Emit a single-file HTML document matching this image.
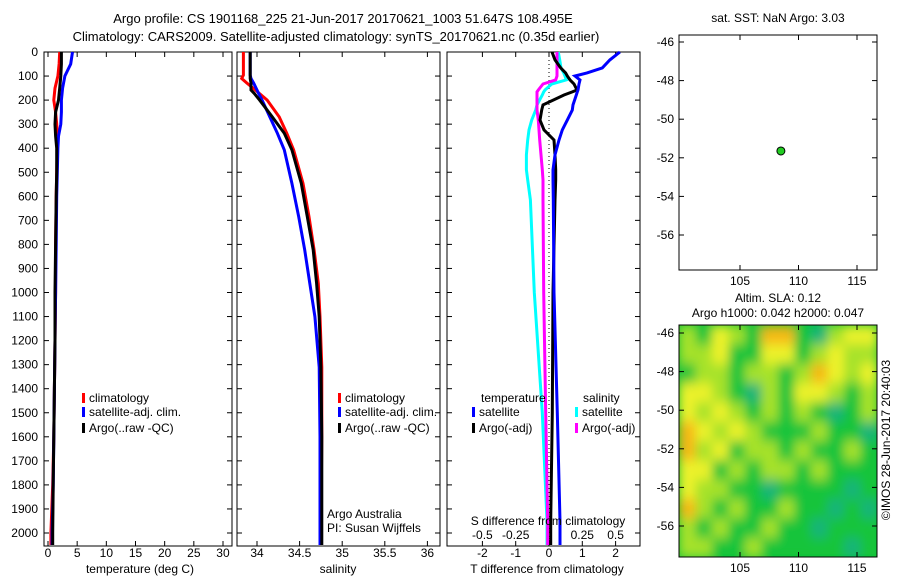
<!DOCTYPE html>
<html><head><meta charset="utf-8"><style>
body{margin:0;background:#fff;}
svg{display:block;font-family:"Liberation Sans",sans-serif;font-size:12px;}
</style></head><body>
<svg id="fig" width="900" height="580" xmlns="http://www.w3.org/2000/svg">
<text x="343" y="23" text-anchor="middle" font-size="13">Argo profile: CS 1901168_225 21-Jun-2017 20170621_1003 51.647S 108.495E</text>
<text x="336" y="41" text-anchor="middle" font-size="13">Climatology: CARS2009. Satellite-adjusted climatology: synTS_20170621.nc (0.35d earlier)</text>
<g id="g"></g>
</svg>
<script>
// ---- data ----
const depths=[0,50,100,150,200,250,300,350,400,500,600,800,1000,1200,1400,1600,1800,2000,2050];
const tempClim=[2.0,1.9,1.7,1.2,1.0,1.3,1.5,1.6,1.6,1.5,1.4,1.3,1.3,1.2,1.1,1.0,0.8,0.5,0.5];
const tempSat=[4.2,3.9,2.9,2.5,2.3,2.3,2.2,1.8,1.7,1.6,1.5,1.4,1.3,1.2,1.1,1.0,0.9,0.7,0.7];
const tempArgo=[2.3,2.3,2.2,2.0,1.8,1.3,1.2,1.3,1.5,1.5,1.4,1.3,1.2,1.2,1.1,1.0,0.9,0.8,0.8];
const salDepths=[0,96,110,129,158,173,200,270,338,407,546,685,823,962,1100,1310,1600,2000,2050];
const salClim=[33.84,33.84,33.82,33.88,33.98,34.03,34.12,34.26,34.35,34.43,34.54,34.61,34.67,34.72,34.74,34.76,34.76,34.75,34.75];
const salSat=[33.92,33.92,33.93,33.96,34.00,34.02,34.06,34.15,34.24,34.32,34.41,34.49,34.56,34.62,34.68,34.73,34.74,34.74,34.74];
const salArgo=[33.92,33.92,33.92,33.93,33.93,33.97,34.03,34.18,34.32,34.41,34.52,34.59,34.66,34.70,34.73,34.75,34.76,34.76,34.76];
const dDepths=[0,33,66,87,100,116,133,158,166,179,220,241,283,324,366,428,490,532,615,1000,1500,1950,2050];
const tDiffSat=[2.13,1.83,1.6,1.14,0.78,0.93,0.9,0.87,0.85,0.82,0.72,0.7,0.55,0.4,0.3,0.18,0.12,0.12,0.13,0.15,0.25,0.33,0.33];
const tDiffArgo=[0.09,0.18,0.35,0.5,0.55,0.63,0.75,0.84,0.7,0.45,-0.18,-0.22,-0.27,-0.15,0.15,0.18,0.2,0.2,0.18,0.12,0.1,0.05,0.05];
const sDiffSat=[0.07,0.08,0.09,0.11,0.12,0.13,0.02,-0.03,-0.04,-0.05,-0.09,-0.1,-0.13,-0.15,-0.16,-0.17,-0.17,-0.16,-0.14,-0.11,-0.05,-0.015,-0.015];
const sDiffArgo=[0.06,0.06,0.06,0.06,0.06,0.05,-0.045,-0.08,-0.09,-0.09,-0.09,-0.09,-0.08,-0.075,-0.07,-0.06,-0.05,-0.045,-0.045,-0.04,-0.025,-0.01,-0.01];
const depthTicks=[0,100,200,300,400,500,600,700,800,900,1000,1100,1200,1300,1400,1500,1600,1700,1800,1900,2000];
const tempTicks=[0,5,10,15,20,25,30];
const salTicks=[34,34.5,35,35.5,36];
const salTickLabels=["34","34.5","35","35.5","36"];
const tdTicks=[-2,-1,0,1,2];
const sdTicks=[-0.5,-0.25,0,0.25,0.5];
const sdTickLabels=["-0.5","-0.25","0","0.25","0.5"];
const argoLon=108.495, argoLat=-51.647;
const lonTicks=[105,110,115];
const latTicks=[-46,-48,-50,-52,-54,-56];
const slaGrid=[
[2,1,3,2,1,4,4,1,0,2,3,3],
[2,2,3,1,1,3,3,1,2,3,2,2],
[1,2,2,1,2,2,1,2,4,3,2,3],
[3,3,2,1,0,2,1,3,3,2,1,2],
[3,2,3,2,1,2,1,2,1,0,1,2],
[4,3,2,3,2,1,1,1,2,1,1,0],
[4,2,3,1,2,2,1,2,1,1,2,1],
[3,3,1,2,1,2,2,1,2,1,1,1],
[3,2,2,1,1,0,1,1,1,1,0,1],
[4,2,1,2,1,1,2,1,1,0,1,0],
[2,1,2,1,1,2,1,1,0,1,1,1],
[2,2,1,1,2,1,1,1,1,1,0,1]];
const slaColors=["#19b47a","#12c43a","#a6e22a","#ecf22a","#f6b816"];
// ---- helpers ----
const NS="http://www.w3.org/2000/svg";
const G=document.getElementById('g');
function mk(tag,attrs,parent){const e=document.createElementNS(NS,tag);for(const k in attrs)e.setAttribute(k,attrs[k]);(parent||G).appendChild(e);return e;}
function txt(x,y,s,anchor,parent,extra){const t=mk('text',Object.assign({x:x,y:y,'text-anchor':anchor||'middle'},extra||{}),parent);t.textContent=s;return t;}
const yD=d=>52+d*0.2405;
const PT={x0:44,x1:232}, PS={x0:237,x1:440}, PD={x0:447,x1:640}, TOP=52, BOT=546;
const xT=v=>48+v*5.833;
const xS=v=>257+(v-34)*85.2;
const xTD=v=>549+v*33.3;
const xSD=v=>549+v*133.2;
function panel(p,name){
  const r=mk('rect',{x:p.x0,y:TOP,width:p.x1-p.x0,height:BOT-TOP,fill:'none',stroke:'#000','stroke-width':1});
  
  
  depthTicks.forEach(d=>{mk('line',{x1:p.x0,x2:p.x0+5,y1:yD(d),y2:yD(d),stroke:'#000'});mk('line',{x1:p.x1,x2:p.x1-5,y1:yD(d),y2:yD(d),stroke:'#000'});});
}
function line(xs,ys,fx,col,name,w){
  const pts=xs.map((v,i)=>fx(v).toFixed(1)+','+yD(ys[i]).toFixed(1)).join(' ');
  const l=mk('polyline',{points:pts,fill:'none',stroke:col,'stroke-width':w||3});
  
  
}
function xticks(p,ticks,fx,labels,ly){
  ticks.forEach((v,i)=>{const x=fx(v);mk('line',{x1:x,x2:x,y1:TOP,y2:TOP+5,stroke:'#000'});mk('line',{x1:x,x2:x,y1:BOT,y2:BOT-5,stroke:'#000'});
    const t=txt(x,ly,labels[i]);});
}
function legend(x,y,col,label){
  mk('rect',{x:x,y:y-9,width:3,height:10,fill:col});
  const t=txt(x+7,y,label,'start');
}
// y labels
depthTicks.forEach(d=>{const t=txt(38,yD(d)+4,String(d),'end');});
// Panel 1
panel(PT,'temperature-panel');
xticks(PT,tempTicks,xT,tempTicks.map(String),557);
line(tempClim,depths,xT,'#f00','temp-climatology-line');
line(tempSat,depths,xT,'#00f','temp-satellite-line');
line(tempArgo,depths,xT,'#000','temp-argo-line');
let t=txt(140,573,'temperature (deg C)');
legend(82,402,'#f00','climatology');legend(82,416,'#00f','satellite-adj. clim.');legend(82,432,'#000','Argo(..raw -QC)');
// Panel 2
panel(PS,'salinity-panel');
xticks(PS,salTicks,xS,salTickLabels,557);
line(salClim,salDepths,xS,'#f00','sal-climatology-line');
line(salSat,salDepths,xS,'#00f','sal-satellite-line');
line(salArgo,salDepths,xS,'#000','sal-argo-line');
t=txt(338,573,'salinity');
legend(338,402,'#f00','climatology');legend(338,416,'#00f','satellite-adj. clim.');legend(338,432,'#000','Argo(..raw -QC)');
t=txt(327,518,'Argo Australia','start');
t=txt(327,532,'PI: Susan Wijffels','start');
// Panel 3
panel(PD,'difference-panel');
mk('line',{x1:xTD(0),x2:xTD(0),y1:TOP,y2:BOT,stroke:'#000','stroke-dasharray':'1,3'});
xticks(PD,tdTicks,xTD,tdTicks.map(String),557);
sdTicks.forEach((v,i)=>{const tt=txt(xSD(v),539,sdTickLabels[i]);});
line(sDiffSat,dDepths,xSD,'#0ff','sdiff-satellite-line');
line(sDiffArgo,dDepths,xSD,'#f0f','sdiff-argo-line');
line(tDiffArgo,dDepths,xTD,'#000','tdiff-argo-line');
line(tDiffSat,dDepths,xTD,'#00f','tdiff-satellite-line');
t=txt(548,525,'S difference from climatology');
t=txt(547,573,'T difference from climatology');
t=txt(481,402,'temperature','start');
t=txt(583,402,'salinity','start');
legend(472,416,'#00f','satellite');legend(575,416,'#0ff','satellite');
legend(472,432,'#000','Argo(-adj)');legend(575,432,'#f0f','Argo(-adj)');
// Map panels
const M={x0:679,x1:877};
const xLon=v=>740+(v-105)*11.7;
function mapAxes(y0,y1,yLat,name){
  const r=mk('rect',{x:M.x0,y:y0,width:M.x1-M.x0,height:y1-y0,fill:'none',stroke:'#000'});
  
  lonTicks.forEach(v=>{const x=xLon(v);mk('line',{x1:x,x2:x,y1:y1,y2:y1-5,stroke:'#000'});mk('line',{x1:x,x2:x,y1:y0,y2:y0+5,stroke:'#000'});
    const tt=txt(x,y1+15,String(v));});
  latTicks.forEach(v=>{const y=yLat(v);mk('line',{x1:M.x0,x2:M.x0+5,y1:y,y2:y,stroke:'#000'});mk('line',{x1:M.x1,x2:M.x1-5,y1:y,y2:y,stroke:'#000'});
    const tt=txt(M.x0-5,y+4,String(v),'end');});
}
const yLat1=v=>42+(-46-v)*19.3;
mapAxes(35,270,yLat1,'sst-map-panel');
const dot=mk('circle',{cx:xLon(argoLon),cy:yLat1(argoLat),r:4,fill:'#2c2',stroke:'#000'});

t=txt(778,22,'sat. SST: NaN Argo: 3.03');
// SLA heatmap
const yLat2=v=>333+(-46-v)*19.3;
const defs=mk('defs',{});
const f=mk('filter',{id:'bl',x:'-5%',y:'-5%',width:'110%',height:'110%'},defs);
mk('feGaussianBlur',{stdDeviation:'5 6'},f);
mk('clipPath',{id:'cp'},defs);
mk('rect',{x:M.x0,y:325,width:M.x1-M.x0,height:232},document.getElementById('cp'));
const hg=mk('g',{'clip-path':'url(#cp)'});
mk('rect',{x:M.x0,y:325,width:198,height:232,fill:slaColors[1]},hg);
const bg=mk('g',{filter:'url(#bl)'},hg);
const nr=slaGrid.length,nc=slaGrid[0].length,cw=198/nc,ch=232/nr;
slaGrid.forEach((row,i)=>row.forEach((v,j)=>{
  const c=mk('rect',{x:M.x0+j*cw,y:325+i*ch,width:cw+1,height:ch+1,fill:slaColors[v]},bg);
  
  
}));
mapAxes(325,557,yLat2,'sla-map-panel');
t=txt(778,302,'Altim. SLA: 0.12');
t=txt(778,317,'Argo h1000: 0.042 h2000: 0.047');
t=txt(0,0,'©IMOS 28-Jun-2017 20:40:03','middle',null,{transform:'translate(890,440) rotate(-90)'});

</script>
</body></html>
